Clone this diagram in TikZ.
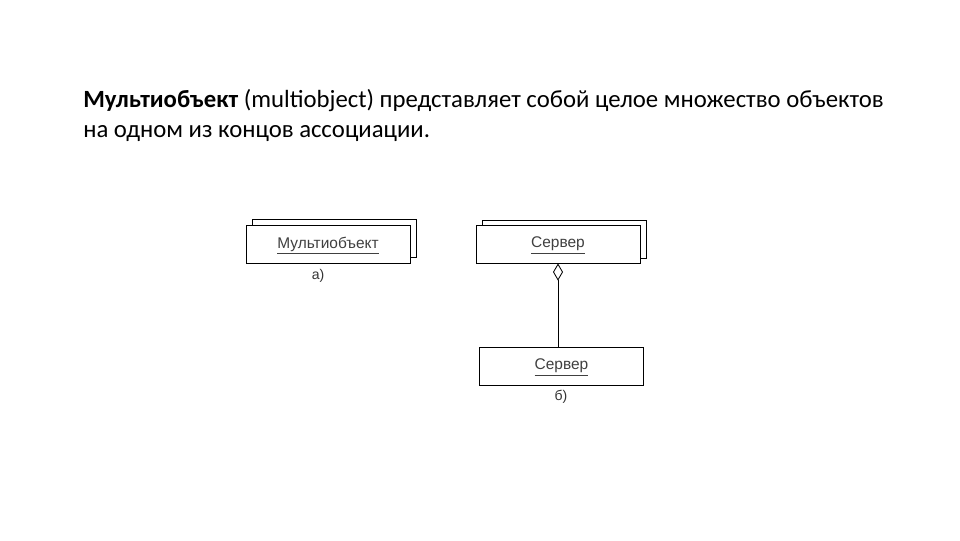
\documentclass[tikz,border=0pt]{standalone}
\usepackage{fontspec}
\setmainfont{Carlito}
\newfontfamily\umlfont{Liberation Sans}
\usetikzlibrary{arrows.meta}
\tikzset{
  obj/.style = {draw, fill=white, line width=0.6pt, minimum width=4.1cm,
    minimum height=0.95cm, inner sep=0pt, text height=8pt, text depth=2.5pt,
    font=\umlfont\fontsize{11}{13}\selectfont, text=black!75},
  objback/.style = {obj},
  caption/.style = {font=\umlfont\fontsize{10}{12}\selectfont, text=black!80},
  heading/.style = {anchor=base west, inner sep=0pt,
    font=\fontsize{17.6}{21}\selectfont}
}

\begin{document}
\begin{tikzpicture}[x=0.025cm, y=-0.025cm]
    \useasboundingbox (0,0) rectangle (960,540);
    % Heading text
    \node[heading] (line1) at (83,107)
      {\textbf{Мультиобъект} (multiobject) представляет собой целое множество объектов};
    \node[heading] (line2) at (83,137) {на одном из концов ассоциации.};
    % a) multiobject
    \node[objback] (multiback) at (334.5,238.5) {};
    \node[obj] (multi) at (328,244.5) {\underline{Мультиобъект}};
    \node[caption] (capa) at (318,276) {а)};
    % b) server multiobject and single server
    \node[objback] (serverback) at (564.5,239) {};
    \node[obj] (servers) at (558,244) {\underline{Сервер}};
    \node[obj] (server) at (561.5,366) {\underline{Сервер}};
    \node[caption] (capb) at (561,397) {б)};
    % Aggregation
    \draw[line width=0.6pt, {Diamond[open, length=0.43cm, width=0.25cm]}-]
      (servers.south) -- (servers.south |- server.north);
\end{tikzpicture}
\end{document}
